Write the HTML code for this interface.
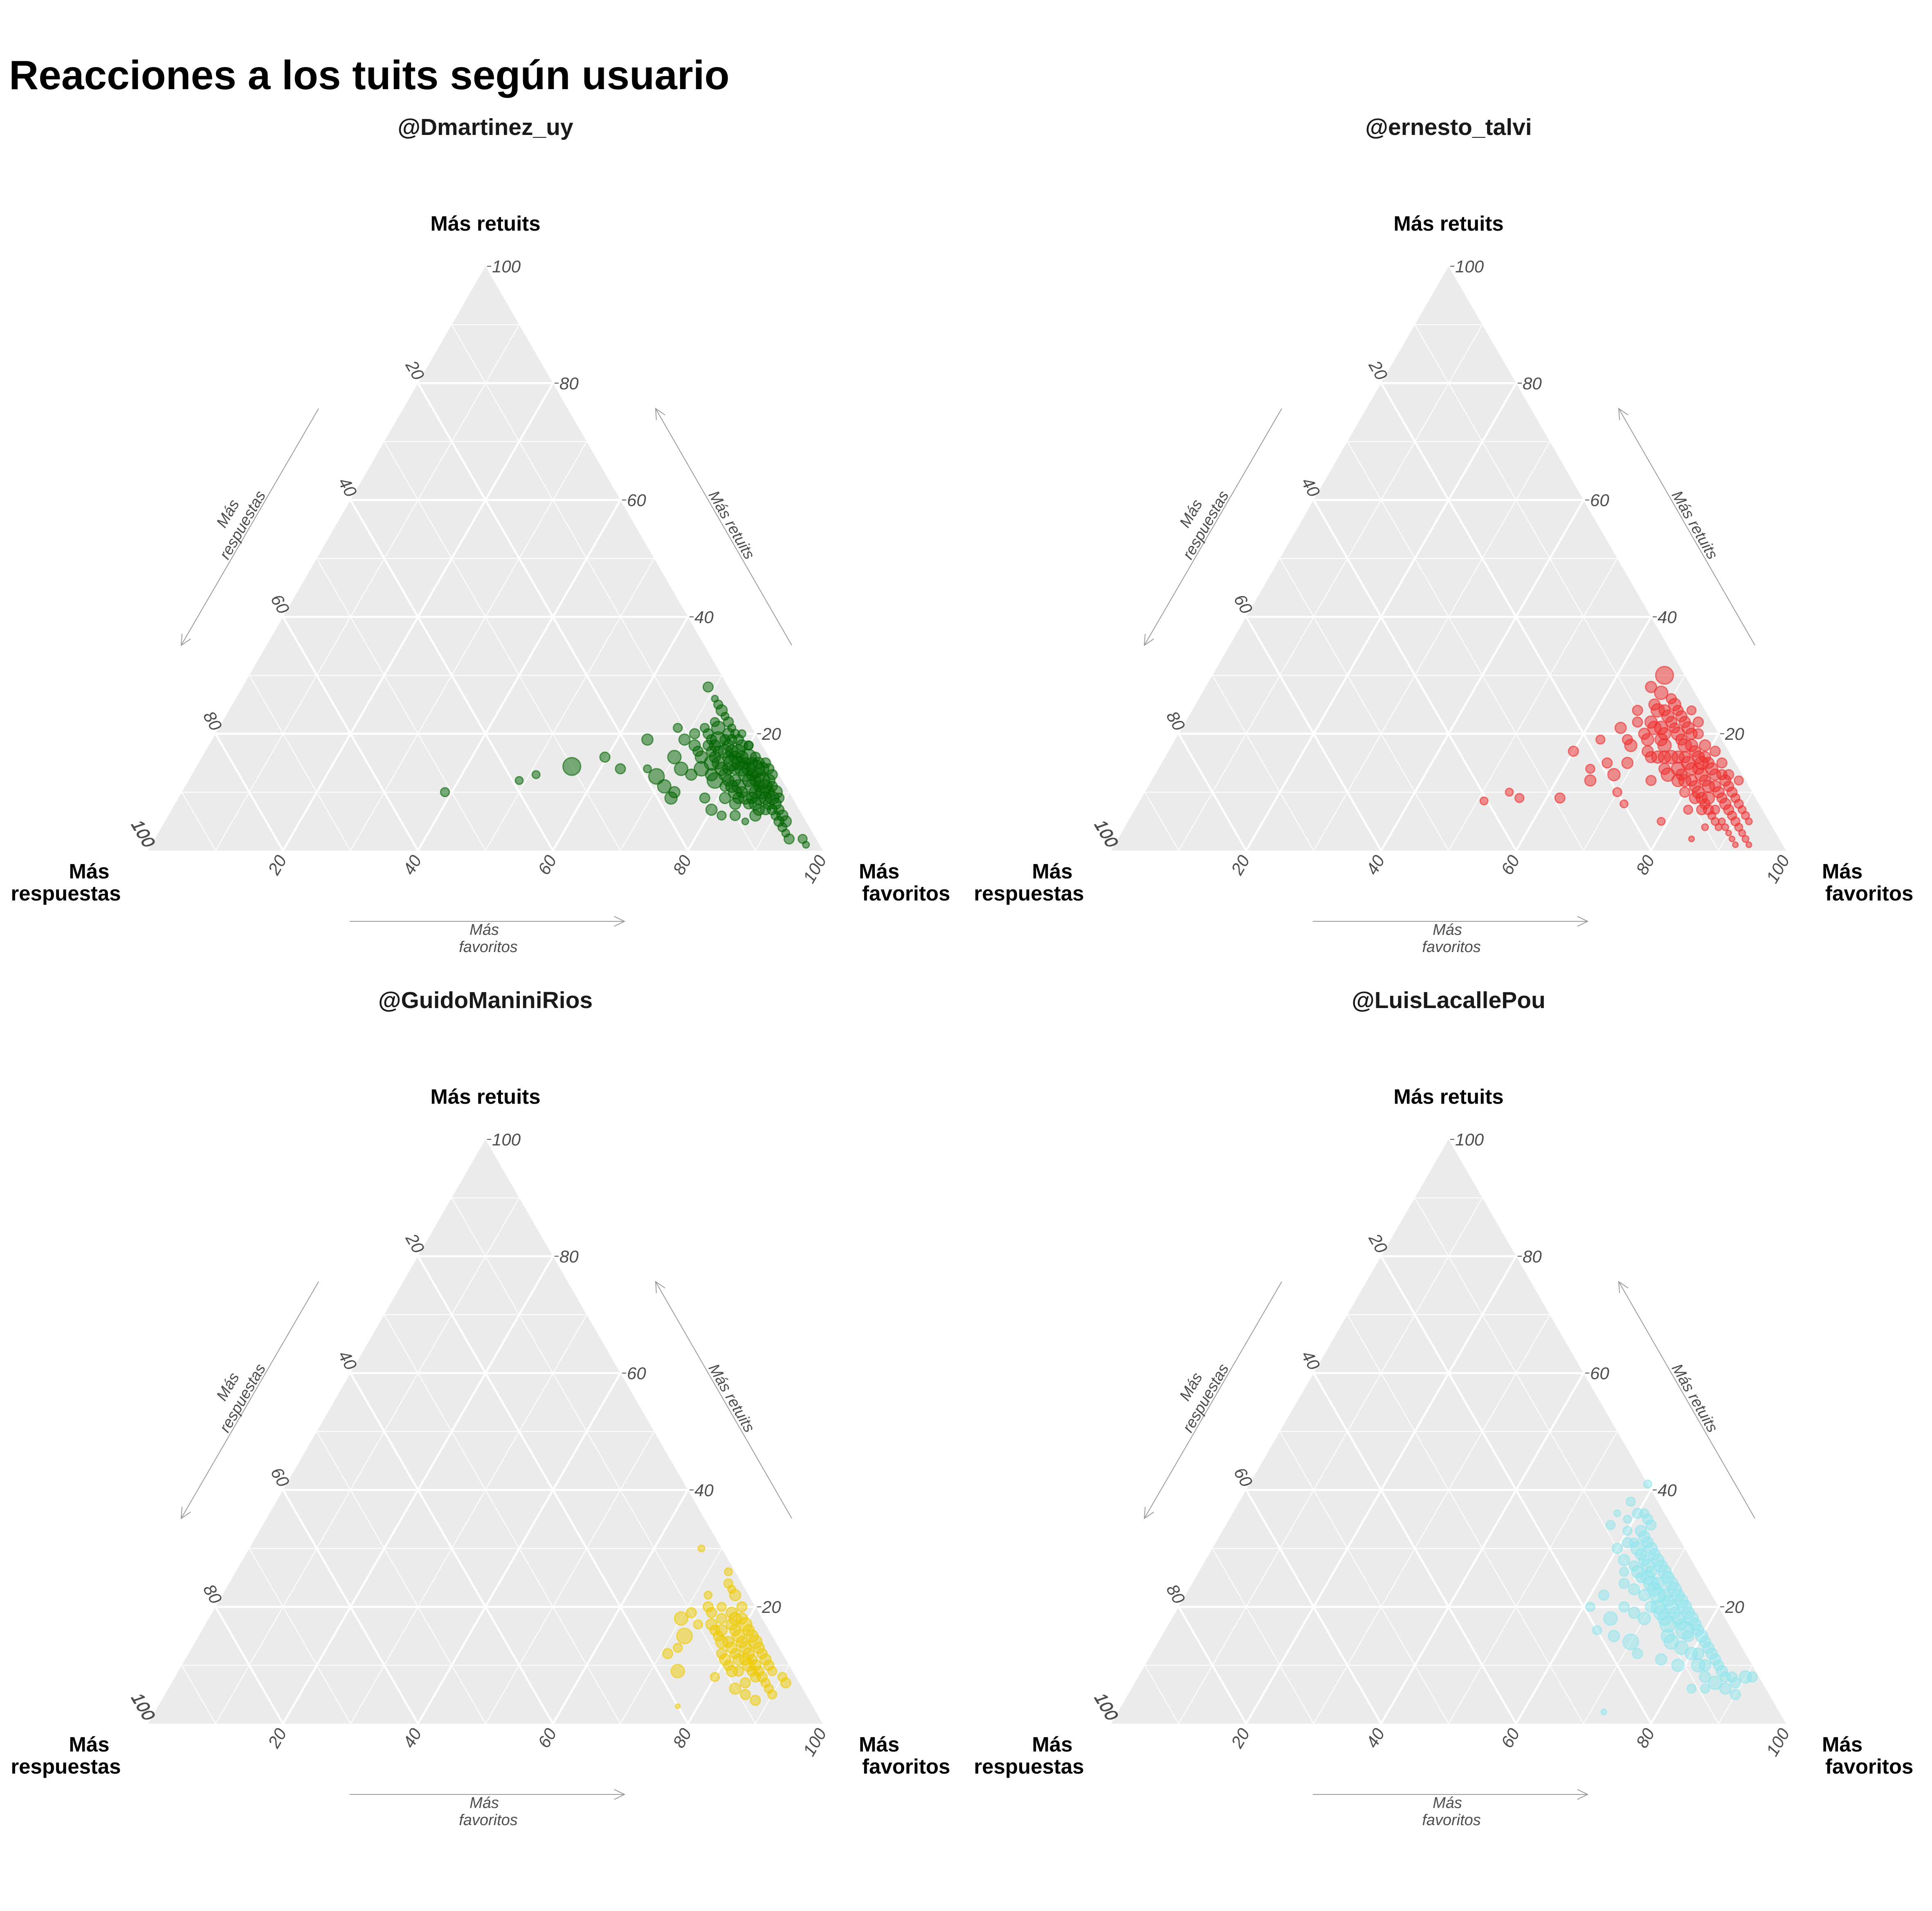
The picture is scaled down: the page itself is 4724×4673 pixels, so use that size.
<!DOCTYPE html>
<html><head><meta charset="utf-8"><style>
html,body{margin:0;padding:0;background:#fff;}
svg{display:block;font-family:"Liberation Sans",sans-serif;}
</style></head><body>
<svg id="chart" width="4724" height="4673" viewBox="0 0 4724 4673" xmlns="http://www.w3.org/2000/svg">
<rect width="4724" height="4673" fill="#fff"/>
<text x="22" y="218" font-size="100" font-weight="bold" fill="#000">Reacciones a los tuits según usuario</text>
</svg>
<script>
// data: [favoritos %, retuits %, size]
const users = ["@Dmartinez_uy","@ernesto_talvi","@GuidoManiniRios","@LuisLacallePou"];
const colors = ["#006400","#ee2c2c","#eec900","#8ee5ee"];
const gridTicks = [10,20,30,40,50,60,70,80,90];
const tickLabels = [20,40,60,80,100];
const greenPts = [[39,10,8],[49,12,7],[51,13,7],[55.6,14.4,16],[59.7,16,9],[63,14,9],[64.5,19,10],[69,12.7,14],[67,14,7],[70,16,12],[71,11,12],[73,9,11],[69,28,9],[72,25,8],[73,24,10],[71,26,6],[75,22,9],[74,21,12],[76,20,10],[77,20,8],[75,19,14],[78,19,9],[80,18,8],[79,17,12],[81,16,14],[82,15,10],[83,14,16],[84,13,12],[85,12,14],[86,11,12],[87,10,10],[88,9,12],[84,12,10],[85,11,9],[83,13,10],[82,13,12],[80,14,10],[79,15,14],[78,16,10],[77,17,12],[76,17,9],[74,16,11],[73,17,9],[72,18,10],[75,14,13],[77,13,11],[78,12,14],[80,11,9],[82,10,12],[81,9,10],[83,8,10],[85,8,9],[86,9,12],[88,8,10],[89,7,9],[90,6,8],[91,5,9],[92,4,8],[93,3,7],[94,2,9],[96,2,8],[97,1,6],[83,15,10],[86,12,11],[87,11,9],[88,10,12],[89,9,9],[84,14,12],[82,16,9],[80,18,8],[78,20,7],[76,21,7],[76,15,13],[74,13,10],[72,14,12],[70,19,10],[71,20,9],[68,21,8],[73,10,10],[78,9,9],[80,7,10],[86,5,6],[82,6,8],[84,6,9],[87,6,10],[91,6,10],[92,5,10],
[79,16,11],[80,15,12],[81,14,13],[82,14,12],[83,12,11],[84,11,12],[85,10,11],[86,10,12],[87,9,11],[81,15,10],[80,16,11],[79,18,10],[78,17,11],[77,18,10],[76,19,9],[75,18,10],[74,18,9],[77,15,11],[78,14,12],[79,13,11],[80,12,10],[81,11,11],[82,11,12],[83,10,10],[84,9,11],[85,9,10],[86,8,11],[87,7,10],[88,7,9],[89,8,10],[90,7,9],[85,14,9],[86,13,9],[84,15,9],[76,16,10],[75,17,9],[74,19,9],[73,20,9],[72,21,8],[73,22,8],[74,23,7],[77,19,9],[79,14,10],[81,12,10],[83,9,10]];
const redPts = [[51,8.5,7],[54,10,7],[56,9,8],[62,9,9],[60,17,9],[64,14,8],[65,12,10],[66,15,9],[68,13,11],[63,19,8],[67,30,16],[66,28,10],[68,27,12],[70,26,9],[71,25,11],[69,24,12],[67,22,9],[65,21,10],[70,21,12],[72,22,10],[73,21,9],[74,20,12],[72,19,11],[75,19,10],[76,18,12],[71,17,10],[73,16,11],[75,16,12],[77,16,10],[78,15,12],[79,14,11],[80,14,10],[76,13,12],[74,12,9],[78,12,11],[81,13,12],[82,12,10],[83,11,11],[84,11,10],[80,10,9],[82,9,10],[84,9,11],[85,10,10],[86,9,9],[87,8,10],[88,7,9],[86,7,8],[84,7,9],[82,7,8],[89,6,8],[90,5,8],[91,4,7],[92,3,6],[93,2,6],[94,1,5],[90,3,5],[88,4,6],[85,2,5],[86,4,6],[79,5,7],[70,10,8],[72,8,7],[69,15,10],[77,20,9],[79,18,10],[81,17,9],[74,24,8],[76,22,9],[83,15,9],[85,13,9],[87,12,8],[80,16,10],[68,18,11],
[70,24,10],[71,23,11],[72,24,9],[73,23,10],[69,22,11],[71,21,12],[72,20,11],[74,22,10],[75,21,11],[76,20,10],[77,18,11],[78,17,10],[79,16,11],[80,15,12],[81,15,10],[82,14,11],[83,13,10],[84,13,9],[85,12,10],[86,11,9],[87,10,9],[88,9,8],[89,8,8],[90,7,7],[91,6,7],[92,5,6],[76,16,11],[77,14,12],[78,13,10],[79,12,11],[80,12,10],[81,11,10],[82,10,11],[83,9,10],[84,8,9],[85,7,9],[75,14,10],[74,16,11],[73,18,12],[72,16,10],[70,19,11],[69,20,10],[67,19,9],[66,24,9],[68,25,10],[86,6,7],[87,5,7],[88,5,6],[89,4,6],[91,2,5],[92,1,5]];
const yellowPts = [[77,3,4],[72,15,14],[67,30,6],[70,18,12],[72,13,8],[74,24,8],[75,23,7],[76,22,10],[78,20,9],[79,18,10],[80,17,12],[81,16,10],[82,15,11],[83,14,12],[84,13,10],[85,12,9],[86,11,10],[87,10,9],[88,9,8],[80,13,10],[79,12,9],[78,14,11],[77,16,10],[76,18,9],[73,20,9],[72,22,7],[80,8,8],[83,9,9],[84,6,10],[86,5,9],[88,4,9],[90,5,8],[90,8,8],[91,7,9],[82,11,10],[84,10,11],[86,8,9],[74,9,12],[71,12,9],[73,17,8],[75,17,10],[81,12,9],[83,11,10],[85,9,9],
[77,19,10],[78,18,11],[79,16,10],[80,15,11],[81,14,10],[82,13,11],[83,12,10],[84,11,9],[85,10,10],[86,9,9],[87,8,9],[78,17,10],[77,15,9],[76,16,9],[75,20,8],[74,19,9],[80,11,10],[81,10,9],[82,9,10],[79,14,10],[88,7,8],[89,6,8],[85,7,9],[73,26,7],[71,19,9]];
const cyanPts = [[59,41,7],[58,38,8],[60,36,9],[59,35,7],[57,34,8],[62,33,10],[61,31,9],[63,30,12],[64,29,10],[62,28,10],[66,27,12],[65,26,11],[67,25,12],[68,24,13],[69,23,12],[70,22,14],[66,23,10],[64,24,9],[71,20,12],[72,19,13],[73,18,12],[74,17,14],[70,18,11],[68,19,10],[66,20,9],[62,22,9],[65,18,12],[67,15,10],[70,14,14],[75,15,12],[77,16,16],[76,14,13],[78,13,12],[80,12,11],[79,10,11],[82,10,12],[84,8,10],[86,7,12],[88,6,10],[90,5,9],[83,6,8],[85,6,8],[90,8,11],[91,8,9],[72,2,5],[63,26,8],[60,30,9],[57,36,6],[76,11,10],[72,12,9],[61,20,8],[64,16,8],
[61,36,8],[62,35,9],[63,34,9],[63,32,10],[64,31,10],[65,30,11],[66,29,10],[67,28,11],[68,27,11],[69,26,12],[70,25,11],[71,24,12],[72,23,12],[73,22,11],[74,21,12],[75,20,12],[76,19,11],[77,18,12],[78,17,11],[79,16,10],[80,15,11],[81,14,10],[82,13,10],[83,12,10],[84,11,10],[85,10,9],[86,9,10],[87,8,9],[88,8,9],[89,7,9],[65,28,10],[67,26,10],[69,24,11],[71,22,11],[73,20,12],[75,18,11],[74,19,10],[72,21,10],[68,22,10],[70,20,10],[76,17,10],[78,15,10],[66,25,9],[64,27,9],[62,31,8],[60,33,8],[81,12,10],[83,10,10]];
const allPts = [greenPts, redPts, yellowPts, cyanPts];

const NS = "http://www.w3.org/2000/svg";
const svg = document.getElementById('chart');
const L0 = 362, BASE0 = 2080, SIDE = 1650, H = SIDE * Math.sqrt(3) / 2;
const offsets = [[0,0],[2355,0],[0,2135],[2355,2135]];
const RSCALE = 1.35;

function mk(tag, attrs, parent){ const e = document.createElementNS(NS, tag); for (const k in attrs) e.setAttribute(k, attrs[k]); parent.appendChild(e); return e; }

offsets.forEach((off, pi) => {
  const ox = off[0], oy = off[1];
  const px = (fav, ret) => ox + L0 + (fav + ret / 2) / 100 * SIDE;
  const py = (ret) => oy + BASE0 - ret / 100 * H;
  const g = mk('g', {}, svg);
  
  

  const tri = mk('polygon', {points: `${px(0,0)},${py(0)} ${px(100,0)},${py(0)} ${px(0,100)},${py(100)}`, fill: '#ebebeb'}, g);
  
  

  gridTicks.forEach(v => {
    const w = v % 20 === 0 ? 5 : 2;
    const a = {stroke: '#fff', 'stroke-width': w};
    const l1 = mk('line', Object.assign({x1: px(0, v), y1: py(v), x2: px(100 - v, v), y2: py(v)}, a), g);
    
    
    const l2 = mk('line', Object.assign({x1: px(v, 0), y1: py(0), x2: px(v, 100 - v), y2: py(100 - v)}, a), g);
    
    
    const l3 = mk('line', Object.assign({x1: px(100 - v, 0), y1: py(0), x2: px(0, 100 - v), y2: py(100 - v)}, a), g);
    
    
  });

  const tstyle = {'font-size': 42, 'font-style': 'italic', fill: '#4d4d4d'};
  tickLabels.forEach(v => {
    const rx = px(100 - v, v), ry = py(v);
    mk('line', {x1: rx + 4, y1: ry, x2: rx + 14, y2: ry, stroke: '#4d4d4d', 'stroke-width': 2}, g);
    const t1 = mk('text', Object.assign({x: rx + 16, y: ry + 15}, tstyle), g);
    t1.textContent = v;
    
    
    const lx = px(0, 100 - v), ly = py(100 - v);
    const t2 = mk('text', Object.assign({x: lx - 8, y: ly - 4, 'text-anchor': 'end', transform: `rotate(60 ${lx - 8} ${ly - 4})`}, tstyle), g);
    t2.textContent = v;
    
    
    const bx = px(v, 0) + 10, by = py(0) + 22;
    const t3 = mk('text', Object.assign({x: bx, y: by, 'text-anchor': 'end', transform: `rotate(-60 ${bx} ${by})`}, tstyle), g);
    t3.textContent = v;
    
    
  });
  const lx0 = px(0,0), ly0 = py(0);
  const t0 = mk('text', Object.assign({x: lx0 - 6, y: ly0 - 4, 'text-anchor': 'end', transform: `rotate(60 ${lx0 - 6} ${ly0 - 4})`}, tstyle), g);
  t0.textContent = '100';
  
  

  const col = colors[pi];
  allPts[pi].forEach(p => {
    const c = mk('circle', {cx: px(p[0], p[1]), cy: py(p[1]), r: p[2] * RSCALE, fill: col, 'fill-opacity': 0.5, stroke: col, 'stroke-opacity': 0.6, 'stroke-width': 3}, g);
    
    
  });

  const tt = mk('text', {x: ox + 1187, y: oy + 330, 'font-size': 57, 'font-weight': 'bold', fill: '#1a1a1a', 'text-anchor': 'middle'}, g);
  tt.textContent = users[pi];
  
  

  const bl = {'font-size': 51, 'font-weight': 'bold', fill: '#000'};
  const at = mk('text', Object.assign({x: ox + 1187, y: oy + 564, 'text-anchor': 'middle'}, bl), g);
  at.textContent = 'Más retuits';
  
  
  const c1 = mk('text', Object.assign({x: ox + 218, y: oy + 2148, 'text-anchor': 'middle'}, bl), g);
  c1.textContent = 'Más';
  
  
  const c2 = mk('text', Object.assign({x: ox + 161, y: oy + 2202, 'text-anchor': 'middle'}, bl), g);
  c2.textContent = 'respuestas';
  
  
  const c3 = mk('text', Object.assign({x: ox + 2100, y: oy + 2148}, bl), g);
  c3.textContent = 'Más';
  
  
  const c4 = mk('text', Object.assign({x: ox + 2108, y: oy + 2202}, bl), g);
  c4.textContent = 'favoritos';
  
  

  const as = {stroke: '#999', 'stroke-width': 2, fill: 'none'};
  function arrow(x1, y1, x2, y2){
    mk('line', Object.assign({x1: ox + x1, y1: oy + y1, x2: ox + x2, y2: oy + y2}, as), g);
    const ang = Math.atan2(y2 - y1, x2 - x1), s = 28, d = 0.45;
    const hx = ox + x2, hy = oy + y2;
    mk('polyline', Object.assign({points: `${hx - s*Math.cos(ang - d)},${hy - s*Math.sin(ang - d)} ${hx},${hy} ${hx - s*Math.cos(ang + d)},${hy - s*Math.sin(ang + d)}`}, as), g);
  }
  arrow(779, 999, 443, 1578);
  arrow(1936, 1578, 1603, 999);
  arrow(855, 2253, 1527, 2253);
  const it = {'font-size': 38, 'font-style': 'italic', fill: '#4d4d4d', 'text-anchor': 'middle'};
  const a1 = mk('text', Object.assign({x: ox + 568, y: oy + 1262, transform: `rotate(-60 ${ox + 568} ${oy + 1262})`}, it), g);
  a1.textContent = 'Más';
  
  
  const a2 = mk('text', Object.assign({x: ox + 604, y: oy + 1290, transform: `rotate(-60 ${ox + 604} ${oy + 1290})`}, it), g);
  a2.textContent = 'respuestas';
  
  
  const a3 = mk('text', Object.assign({x: ox + 1778, y: oy + 1290, transform: `rotate(60 ${ox + 1778} ${oy + 1290})`}, it), g);
  a3.textContent = 'Más retuits';
  
  
  const a4 = mk('text', Object.assign({x: ox + 1184, y: oy + 2286}, it), g);
  a4.textContent = 'Más';
  
  
  const a5 = mk('text', Object.assign({x: ox + 1194, y: oy + 2328}, it), g);
  a5.textContent = 'favoritos';
  
  
});
</script>
</body></html>
